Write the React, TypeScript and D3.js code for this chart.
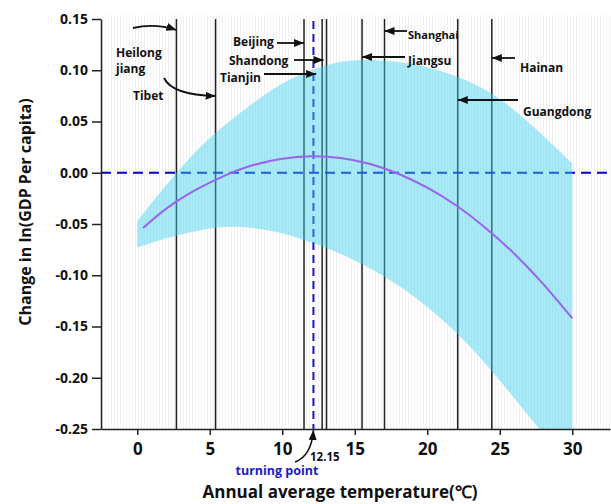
import { useEffect, useRef } from 'react';
import * as d3 from 'd3';

// confidence band
const bandTemps = [0, 2, 4, 6, 8, 10, 12, 14, 16, 18, 20, 22, 24, 26, 28, 30];
const upperCI = [-0.047, -0.012, 0.020, 0.046, 0.068, 0.087, 0.100, 0.108, 0.110, 0.108, 0.103, 0.094, 0.081, 0.061, 0.036, 0.009];
const lowerCI = [-0.073, -0.064, -0.057, -0.053, -0.054, -0.059, -0.068, -0.079, -0.093, -0.110, -0.131, -0.156, -0.186, -0.220, -0.255, -0.293];

// estimated effect
const lineTemps = [0.4, 2, 4, 6, 8, 10, 12, 14, 16, 18, 20, 22, 24, 26, 28, 30];
const effect = [-0.054, -0.035, -0.017, -0.003, 0.0075, 0.0137, 0.016, 0.0143, 0.0087, -0.001, -0.0146, -0.032, -0.0536, -0.079, -0.1086, -0.142];

// provinces and their annual average temperature
const provinceNames = ['Heilongjiang', 'Tibet', 'Beijing', 'Tianjin', 'Shandong', 'Jiangsu', 'Shanghai', 'Guangdong', 'Hainan'];
const provinceTemps = [2.7, 5.4, 11.5, 12.75, 13.05, 15.5, 17.05, 22.1, 24.45];

const turningPoint = 12.15;
const xTicks = [0, 5, 10, 15, 20, 25, 30];
const yTicks = [0.15, 0.1, 0.05, 0, -0.05, -0.1, -0.15, -0.2, -0.25];

// where the annotation text / arrows go (pixels)
const labelLayout = {
  Heilongjiang: { lines: [['Heilong', 116, 57], ['jiang', 116, 73]], tail: [133, 28], tipY: 30, dx: 0, curve: [155, 23] },
  Tibet: { lines: [['Tibet', 133, 100]], tail: [164, 78], tipY: 96, dx: 0, curve: [172, 95] },
  Beijing: { lines: [['Beijing', 233, 46]], tail: [277, 43], tipY: 43, dx: 0 },
  Shandong: { lines: [['Shandong', 229, 65]], tail: [294, 60], tipY: 60, dx: -3 },
  Tianjin: { lines: [['Tianjin', 220, 82]], tail: [264, 74], tipY: 74, dx: -6 },
  Shanghai: { lines: [['Shanghai', 408, 39]], tail: [407, 31], tipY: 31, dx: 0, small: true },
  Jiangsu: { lines: [['Jiangsu', 408, 65]], tail: [405, 57], tipY: 57, dx: 0 },
  Hainan: { lines: [['Hainan', 520, 72]], tail: [515, 58], tipY: 58, dx: 0 },
  Guangdong: { lines: [['Guangdong', 523, 116]], tail: [518, 100], tipY: 100, dx: 0 },
};

const W = 611;
const H = 504;
const font = '"Open Sans", "Segoe UI", sans-serif';

export default function App() {
  const svgRef = useRef<SVGSVGElement>(null);

  useEffect(() => {
    document.body.style.margin = '0';
    const svg = d3.select(svgRef.current);
    svg.selectAll('*').remove();

    const left = 101, right = 610, top = 19, bottom = 429;
    const x = d3.scaleLinear().domain([-2.5, 32.6]).range([left, right]);
    const y = d3.scaleLinear().domain([-0.25, 0.15]).range([bottom, top]);

    const defs = svg.append('defs');
    const pat = defs.append('pattern')
      .attr('id', 'rug')
      .attr('patternUnits', 'userSpaceOnUse')
      .attr('width', 3)
      .attr('height', 10);
    pat.append('rect').attr('x', 0).attr('y', 0).attr('width', 1).attr('height', 10).attr('fill', '#f2f2f2');

    defs.append('clipPath').attr('id', 'plotClip')
      .append('rect').attr('x', left).attr('y', top - 5).attr('width', right - left).attr('height', bottom - top + 5);

    const marker = defs.append('marker')
      .attr('id', 'arrowHead')
      .attr('viewBox', '0 0 10 8')
      .attr('refX', 10)
      .attr('refY', 4)
      .attr('markerWidth', 10)
      .attr('markerHeight', 8)
      .attr('markerUnits', 'userSpaceOnUse')
      .attr('orient', 'auto');
    marker.append('path').attr('d', 'M0,0 L10,4 L0,8 Z').attr('fill', '#111');

    // faint background rug
    svg.append('rect')
      .attr('x', left + 1).attr('y', top - 4)
      .attr('width', right - left - 1).attr('height', bottom - top + 4)
      .attr('fill', 'url(#rug)');

    // province lines
    svg.append('g').selectAll('line')
      .data(provinceTemps)
      .enter().append('line')
      .attr('x1', d => x(d)).attr('x2', d => x(d))
      .attr('y1', y(0.15)).attr('y2', bottom)
      .attr('stroke', '#222')
      .attr('stroke-width', 1.5);

    // zero line and turning point
    svg.append('line')
      .attr('x1', left).attr('x2', right)
      .attr('y1', y(0)).attr('y2', y(0))
      .attr('stroke', '#0000c8')
      .attr('stroke-width', 2)
      .attr('stroke-dasharray', '10,6');

    svg.append('line')
      .attr('x1', x(turningPoint)).attr('x2', x(turningPoint))
      .attr('y1', y(0.148)).attr('y2', bottom)
      .attr('stroke', '#1a1acc')
      .attr('stroke-width', 2)
      .attr('stroke-dasharray', '8,5');

    // confidence band
    const bandData = bandTemps.map((t, i) => ({ t, lo: lowerCI[i], hi: upperCI[i] }));
    const area = d3.area<{ t: number; lo: number; hi: number }>()
      .x(d => x(d.t))
      .y0(d => y(d.lo))
      .y1(d => y(d.hi))
      .curve(d3.curveNatural);
    svg.append('path')
      .datum(bandData)
      .attr('clip-path', 'url(#plotClip)')
      .attr('d', area)
      .attr('fill', 'rgb(62,208,239)')
      .attr('fill-opacity', 0.45);

    // effect line
    const lineData = lineTemps.map((t, i) => ({ t, v: effect[i] }));
    const line = d3.line<{ t: number; v: number }>()
      .x(d => x(d.t))
      .y(d => y(d.v))
      .curve(d3.curveNatural);
    svg.append('path')
      .datum(lineData)
      .attr('d', line)
      .attr('fill', 'none')
      .attr('stroke', '#9a63f0')
      .attr('stroke-width', 2);

    // axes
    const xAxis = svg.append('g')
      .attr('transform', `translate(0,${bottom})`)
      .call(d3.axisBottom(x).tickValues(xTicks).tickSize(6).tickSizeOuter(0).tickPadding(8).tickFormat(d => String(d)));
    const yAxis = svg.append('g')
      .attr('transform', `translate(${left},0)`)
      .call(d3.axisLeft(y).tickValues(yTicks).tickSize(9).tickSizeOuter(0).tickPadding(4).tickFormat(d => (+d).toFixed(2)));

    [xAxis, yAxis].forEach(g => {
      g.select('.domain').attr('stroke', '#222').attr('stroke-width', 1.5);
      g.selectAll('.tick line').attr('stroke', '#222').attr('stroke-width', 1.5);
      g.selectAll('.tick text')
        .attr('fill', '#111')
        .style('font-family', font)
        .style('font-weight', 700);
    });
    xAxis.selectAll('.tick text').style('font-size', '17px');
    yAxis.selectAll('.tick text').style('font-size', '14px');

    // axis titles
    svg.append('text')
      .attr('x', 340).attr('y', 498)
      .attr('text-anchor', 'middle')
      .style('font-family', font).style('font-weight', 700).style('font-size', '17px')
      .attr('fill', '#111')
      .text('Annual average temperature(℃)');

    svg.append('text')
      .attr('transform', 'translate(31,212) rotate(-90)')
      .attr('text-anchor', 'middle')
      .style('font-family', font).style('font-weight', 700).style('font-size', '16px')
      .attr('fill', '#111')
      .text('Change in ln(GDP Per capita)');

    // turning point annotation
    svg.append('text')
      .attr('x', 277).attr('y', 475)
      .attr('text-anchor', 'middle')
      .style('font-family', font).style('font-weight', 700).style('font-size', '12.5px')
      .attr('fill', '#1a1acc')
      .text('turning point');

    svg.append('text')
      .attr('x', 310).attr('y', 461)
      .style('font-family', font).style('font-weight', 700).style('font-size', '11.5px')
      .attr('fill', '#111')
      .text(String(turningPoint));

    svg.append('path')
      .attr('d', `M295,462 Q${x(turningPoint) - 2},456 ${x(turningPoint)},${bottom + 1}`)
      .attr('fill', 'none')
      .attr('stroke', '#111')
      .attr('stroke-width', 1.6)
      .attr('marker-end', 'url(#arrowHead)');

    // province annotations
    const ann = svg.append('g');
    provinceNames.forEach((name, i) => {
      const lay = labelLayout[name as keyof typeof labelLayout];
      const tipX = x(provinceTemps[i]) + lay.dx;
      const [tx, ty] = lay.tail;
      const c = (lay as any).curve;
      const d = c ? `M${tx},${ty} Q${c[0]},${c[1]} ${tipX},${lay.tipY}` : `M${tx},${ty} L${tipX},${lay.tipY}`;
      ann.append('path')
        .attr('d', d)
        .attr('fill', 'none')
        .attr('stroke', '#111')
        .attr('stroke-width', 1.8)
        .attr('marker-end', 'url(#arrowHead)');
      lay.lines.forEach(([txt, lx, ly]) => {
        ann.append('text')
          .attr('x', lx as number).attr('y', ly as number)
          .style('font-family', font).style('font-weight', 700)
          .style('font-size', (lay as any).small ? '11px' : '12px')
          .attr('fill', '#111')
          .text(txt as string);
      });
    });
  }, []);

  return <svg ref={svgRef} width={W} height={H} style={{ display: 'block', background: '#fff' }} />;
}
